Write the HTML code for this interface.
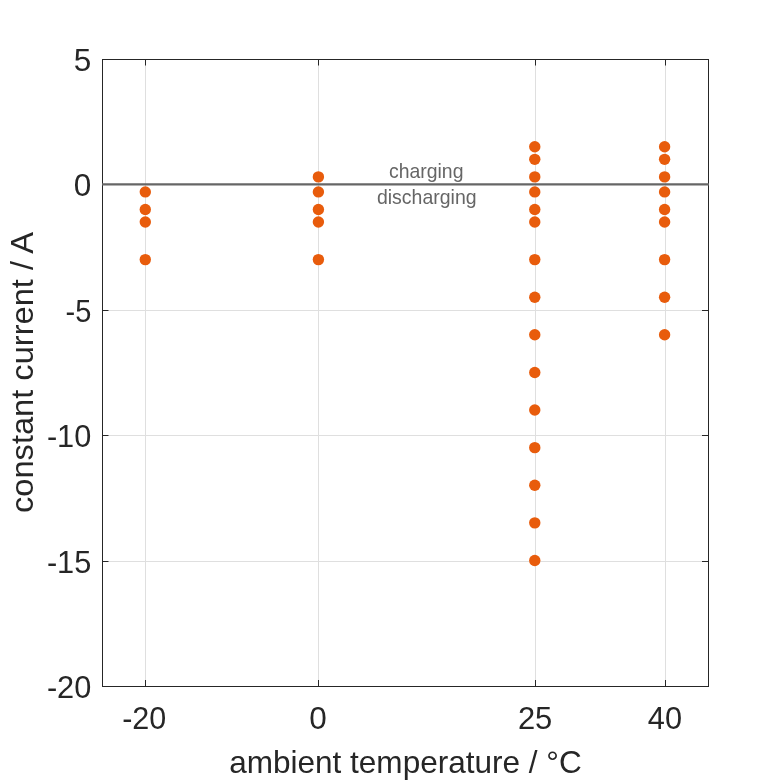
<!DOCTYPE html>
<html><head><meta charset="utf-8"><style>
html,body{margin:0;padding:0;background:#fff;width:781px;height:781px;overflow:hidden}
svg{position:absolute;left:0;top:0;will-change:transform}
text{font-family:"Liberation Sans",sans-serif;fill:#262626}
</style></head><body>
<svg width="781" height="781" viewBox="0 0 781 781">
<rect width="781" height="781" fill="#fff"/>
<line x1="145.5" y1="60" x2="145.5" y2="686" stroke="#dfdfdf" stroke-width="1"/>
<line x1="318.5" y1="60" x2="318.5" y2="686" stroke="#dfdfdf" stroke-width="1"/>
<line x1="535.5" y1="60" x2="535.5" y2="686" stroke="#dfdfdf" stroke-width="1"/>
<line x1="665.5" y1="60" x2="665.5" y2="686" stroke="#dfdfdf" stroke-width="1"/>
<line x1="103" y1="184.5" x2="708" y2="184.5" stroke="#dfdfdf" stroke-width="1"/>
<line x1="103" y1="310.5" x2="708" y2="310.5" stroke="#dfdfdf" stroke-width="1"/>
<line x1="103" y1="435.5" x2="708" y2="435.5" stroke="#dfdfdf" stroke-width="1"/>
<line x1="103" y1="561.5" x2="708" y2="561.5" stroke="#dfdfdf" stroke-width="1"/>
<line x1="145.5" y1="59" x2="145.5" y2="65.5" stroke="#262626" stroke-width="1"/>
<line x1="145.5" y1="680" x2="145.5" y2="687" stroke="#262626" stroke-width="1"/>
<line x1="318.5" y1="59" x2="318.5" y2="65.5" stroke="#262626" stroke-width="1"/>
<line x1="318.5" y1="680" x2="318.5" y2="687" stroke="#262626" stroke-width="1"/>
<line x1="535.5" y1="59" x2="535.5" y2="65.5" stroke="#262626" stroke-width="1"/>
<line x1="535.5" y1="680" x2="535.5" y2="687" stroke="#262626" stroke-width="1"/>
<line x1="665.5" y1="59" x2="665.5" y2="65.5" stroke="#262626" stroke-width="1"/>
<line x1="665.5" y1="680" x2="665.5" y2="687" stroke="#262626" stroke-width="1"/>
<line x1="102" y1="59.5" x2="108.5" y2="59.5" stroke="#262626" stroke-width="1"/>
<line x1="702" y1="59.5" x2="709" y2="59.5" stroke="#262626" stroke-width="1"/>
<line x1="102" y1="184.5" x2="108.5" y2="184.5" stroke="#262626" stroke-width="1"/>
<line x1="702" y1="184.5" x2="709" y2="184.5" stroke="#262626" stroke-width="1"/>
<line x1="102" y1="310.5" x2="108.5" y2="310.5" stroke="#262626" stroke-width="1"/>
<line x1="702" y1="310.5" x2="709" y2="310.5" stroke="#262626" stroke-width="1"/>
<line x1="102" y1="435.5" x2="108.5" y2="435.5" stroke="#262626" stroke-width="1"/>
<line x1="702" y1="435.5" x2="709" y2="435.5" stroke="#262626" stroke-width="1"/>
<line x1="102" y1="561.5" x2="108.5" y2="561.5" stroke="#262626" stroke-width="1"/>
<line x1="702" y1="561.5" x2="709" y2="561.5" stroke="#262626" stroke-width="1"/>
<line x1="102" y1="686.5" x2="108.5" y2="686.5" stroke="#262626" stroke-width="1"/>
<line x1="702" y1="686.5" x2="709" y2="686.5" stroke="#262626" stroke-width="1"/>
<rect x="102.5" y="59.5" width="606" height="627" fill="none" stroke="#262626" stroke-width="1"/>
<line x1="102" y1="184.35" x2="709" y2="184.35" stroke="#666666" stroke-width="2.4"/>
<circle cx="145.30" cy="191.92" r="5.7" fill="#E85C0C"/>
<circle cx="145.30" cy="209.47" r="5.7" fill="#E85C0C"/>
<circle cx="145.30" cy="222.00" r="5.7" fill="#E85C0C"/>
<circle cx="145.30" cy="259.61" r="5.7" fill="#E85C0C"/>
<circle cx="318.40" cy="176.88" r="5.7" fill="#E85C0C"/>
<circle cx="318.40" cy="191.92" r="5.7" fill="#E85C0C"/>
<circle cx="318.40" cy="209.47" r="5.7" fill="#E85C0C"/>
<circle cx="318.40" cy="222.00" r="5.7" fill="#E85C0C"/>
<circle cx="318.40" cy="259.61" r="5.7" fill="#E85C0C"/>
<circle cx="534.77" cy="146.80" r="5.7" fill="#E85C0C"/>
<circle cx="534.77" cy="159.33" r="5.7" fill="#E85C0C"/>
<circle cx="534.77" cy="176.88" r="5.7" fill="#E85C0C"/>
<circle cx="534.77" cy="191.92" r="5.7" fill="#E85C0C"/>
<circle cx="534.77" cy="209.47" r="5.7" fill="#E85C0C"/>
<circle cx="534.77" cy="222.00" r="5.7" fill="#E85C0C"/>
<circle cx="534.77" cy="259.61" r="5.7" fill="#E85C0C"/>
<circle cx="534.77" cy="297.22" r="5.7" fill="#E85C0C"/>
<circle cx="534.77" cy="334.82" r="5.7" fill="#E85C0C"/>
<circle cx="534.77" cy="372.43" r="5.7" fill="#E85C0C"/>
<circle cx="534.77" cy="410.03" r="5.7" fill="#E85C0C"/>
<circle cx="534.77" cy="447.63" r="5.7" fill="#E85C0C"/>
<circle cx="534.77" cy="485.24" r="5.7" fill="#E85C0C"/>
<circle cx="534.77" cy="522.85" r="5.7" fill="#E85C0C"/>
<circle cx="534.77" cy="560.45" r="5.7" fill="#E85C0C"/>
<circle cx="664.60" cy="146.80" r="5.7" fill="#E85C0C"/>
<circle cx="664.60" cy="159.33" r="5.7" fill="#E85C0C"/>
<circle cx="664.60" cy="176.88" r="5.7" fill="#E85C0C"/>
<circle cx="664.60" cy="191.92" r="5.7" fill="#E85C0C"/>
<circle cx="664.60" cy="209.47" r="5.7" fill="#E85C0C"/>
<circle cx="664.60" cy="222.00" r="5.7" fill="#E85C0C"/>
<circle cx="664.60" cy="259.61" r="5.7" fill="#E85C0C"/>
<circle cx="664.60" cy="297.22" r="5.7" fill="#E85C0C"/>
<circle cx="664.60" cy="334.82" r="5.7" fill="#E85C0C"/>
<g font-size="31.5">
<text x="91.3" y="71" text-anchor="end">5</text>
<text x="91.3" y="196" text-anchor="end">0</text>
<text x="91.3" y="322" text-anchor="end" textLength="25.8" lengthAdjust="spacingAndGlyphs">-5</text>
<text x="91.3" y="447" text-anchor="end" textLength="44.4" lengthAdjust="spacingAndGlyphs">-10</text>
<text x="91.3" y="573" text-anchor="end" textLength="44.4" lengthAdjust="spacingAndGlyphs">-15</text>
<text x="91.3" y="698" text-anchor="end" textLength="44.4" lengthAdjust="spacingAndGlyphs">-20</text>
<text x="144.2" y="728.8" text-anchor="middle" textLength="44.1" lengthAdjust="spacingAndGlyphs">-20</text>
<text x="317.9" y="728.8" text-anchor="middle">0</text>
<text x="535.1" y="728.8" text-anchor="middle" textLength="34.4" lengthAdjust="spacingAndGlyphs">25</text>
<text x="664.9" y="728.8" text-anchor="middle" textLength="34.2" lengthAdjust="spacingAndGlyphs">40</text>
<text x="405.45" y="772.6" text-anchor="middle" textLength="352.5" lengthAdjust="spacingAndGlyphs">ambient temperature / °C</text>
<text transform="translate(33,372.5) rotate(-90)" text-anchor="middle" textLength="281" lengthAdjust="spacingAndGlyphs">constant current / A</text>
</g>
<g font-size="20.6" style="fill:#666">
<text x="426.2" y="177.9" text-anchor="middle" textLength="74.5" lengthAdjust="spacingAndGlyphs" style="fill:#666">charging</text>
<text x="426.8" y="203.85" text-anchor="middle" textLength="99.7" lengthAdjust="spacingAndGlyphs" style="fill:#666">discharging</text>
</g>
</svg>
</body></html>
